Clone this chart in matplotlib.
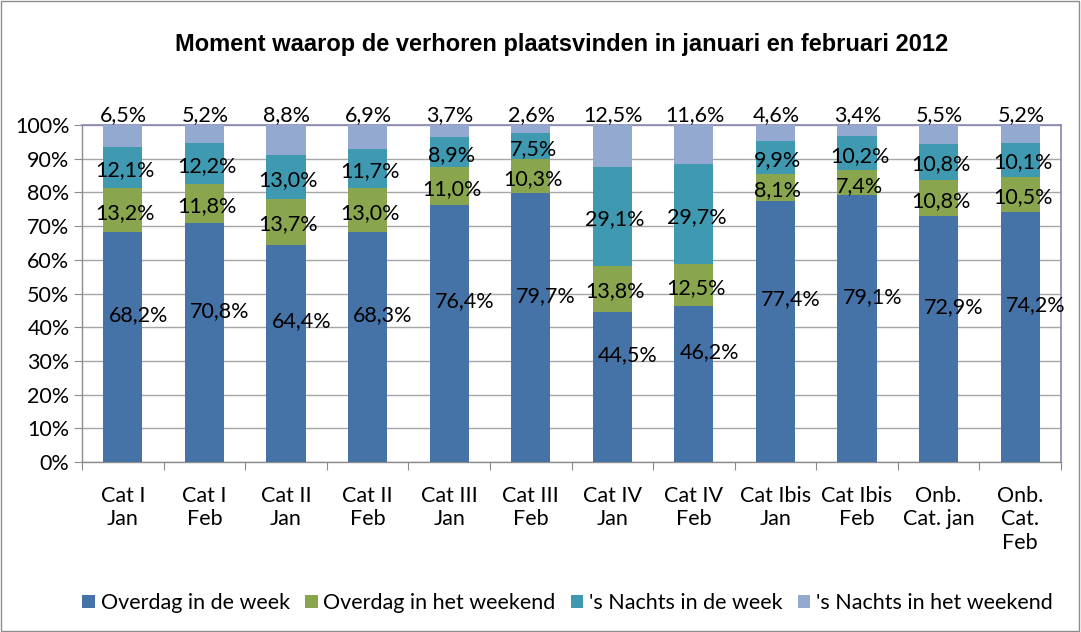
import matplotlib
matplotlib.use("Agg")
import matplotlib.pyplot as plt
from matplotlib.patches import Rectangle
import numpy as np

categories = ["Cat I\nJan", "Cat I\nFeb", "Cat II\nJan", "Cat II\nFeb", "Cat III\nJan",
              "Cat III\nFeb", "Cat IV\nJan", "Cat IV\nFeb", "Cat Ibis\nJan", "Cat Ibis\nFeb",
              "Onb.\nCat. jan", "Onb.\nCat.\nFeb"]
overdag_week = [68.2, 70.8, 64.4, 68.3, 76.4, 79.7, 44.5, 46.2, 77.4, 79.1, 72.9, 74.2]
overdag_weekend = [13.2, 11.8, 13.7, 13.0, 11.0, 10.3, 13.8, 12.5, 8.1, 7.4, 10.8, 10.5]
nachts_week = [12.1, 12.2, 13.0, 11.7, 8.9, 7.5, 29.1, 29.7, 9.9, 10.2, 10.8, 10.1]
nachts_weekend = [6.5, 5.2, 8.8, 6.9, 3.7, 2.6, 12.5, 11.6, 4.6, 3.4, 5.5, 5.2]
series_names = ["Overdag in de week", "Overdag in het weekend", "'s Nachts in de week",
                "'s Nachts in het weekend"]
yticks = [0, 10, 20, 30, 40, 50, 60, 70, 80, 90, 100]

colors = ["#4572A7", "#89A54E", "#3F9AB1", "#93A9CF"]
FONT = "Lato"
FS = 15.5

fig = plt.figure(figsize=(10.81, 6.32), dpi=100)
fig.patches.append(Rectangle((0.001, 0.001), 0.997, 0.997, transform=fig.transFigure,
                             fill=False, edgecolor="#8c8c8c", linewidth=1.0))
ax = fig.add_axes([82/1081, 1-462/632, (1061-82)/1081, (462-125)/632])

x = np.arange(len(categories))
series = [overdag_week, overdag_weekend, nachts_week, nachts_weekend]
bottom = np.zeros(len(categories))
width = 0.48
for vals, col, name in zip(series, colors, series_names):
    ax.bar(x, vals, width, bottom=bottom, color=col, label=name, zorder=3)
    bottom += np.array(vals)

def fmt(v):
    return f"{v:.1f}%".replace(".", ",")

for i in range(len(categories)):
    b0 = overdag_week[i]
    ax.text(i + 0.19, b0/2 + 9.5, fmt(b0), ha="center", va="center",
            fontsize=FS, family=FONT, zorder=5)
    b1 = overdag_week[i] + overdag_weekend[i]/2
    ax.text(i + 0.03, b1 - 0.8, fmt(overdag_weekend[i]), ha="center", va="center",
            fontsize=FS, family=FONT, zorder=5)
    b2 = overdag_week[i] + overdag_weekend[i] + nachts_week[i]/2
    ax.text(i + 0.03, b2 - 0.8, fmt(nachts_week[i]), ha="center", va="center",
            fontsize=FS, family=FONT, zorder=5)
    ax.text(i + 0.01, 102.8, fmt(nachts_weekend[i]), ha="center", va="center",
            fontsize=FS, family=FONT, zorder=5, clip_on=False)

ax.set_xlim(-0.5, len(categories) - 0.5)
ax.set_ylim(0, 100)
ax.set_yticks(yticks)
ax.set_yticklabels([f"{t}%" for t in yticks], family=FONT, fontsize=FS)
ax.yaxis.grid(True, color="#a6a6a6", linewidth=1.0, zorder=0)
ax.set_axisbelow(True)

ax.set_xticks(np.arange(len(categories) + 1) - 0.5)
ax.set_xticklabels([])
ax.tick_params(axis="x", length=6, color="#8c8c8c", direction="out")
ax.tick_params(axis="y", length=6, color="#8c8c8c", direction="out", pad=3)
for i, c in enumerate(categories):
    ax.text(i, -7, c, ha="center", va="top", fontsize=FS, family=FONT,
            linespacing=1.22, transform=ax.transData, clip_on=False)

for s in ["top", "right"]:
    ax.spines[s].set_color("#8886b4")
    ax.spines[s].set_linewidth(1.2)
for s in ["left", "bottom"]:
    ax.spines[s].set_color("#8c8c8c")
    ax.spines[s].set_linewidth(1.0)

fig.text(0.52, 1-45/632, "Moment waarop de verhoren plaatsvinden in januari en februari 2012",
         ha="center", va="center", fontsize=17, fontweight="bold", family="Liberation Sans")

leg = fig.legend(loc="center", bbox_to_anchor=(0.525, 1-603/632), ncol=4, frameon=False,
                 prop={"family": FONT, "size": FS}, handlelength=0.6, handleheight=0.6,
                 handletextpad=0.25, columnspacing=0.7)

fig.savefig("out.png", dpi=100)
